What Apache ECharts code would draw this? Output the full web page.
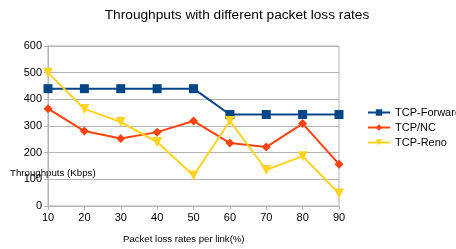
<!DOCTYPE html>
<html><head><meta charset="utf-8">
<script src="https://cdn.jsdelivr.net/npm/echarts@6/dist/echarts.min.js"></script>
<style>html,body{margin:0;padding:0;background:#fff}#c{width:456px;height:249px}</style>
</head><body><div id="c"></div>
<script>
const categories = ['10','20','30','40','50','60','70','80','90'];
const tcpForward = [440,440,440,440,440,343,343,343,343];
const tcpNC = [365,281,253,277,319,236,221,309,157];
const tcpReno = [500,364,315,240,114,319,135,187,47];
const seriesNames = ['TCP-Forward','TCP/NC','TCP-Reno'];

const chart = echarts.init(document.getElementById('c'));
const font = 'Liberation Sans';
chart.setOption({
  animation:false,
  title:{text:'Throughputs with different packet loss rates',left:232,textAlign:'center',top:3,
    textStyle:{fontFamily:font,fontSize:13.7,fontWeight:'normal',color:'#000'}},
  grid:{left:48,right:117,top:46,bottom:43,show:true,borderColor:'#b3b3b3',borderWidth:1},
  legend:{orient:'vertical',left:367,top:107,padding:0,itemWidth:22,itemHeight:8,itemGap:4,
    textStyle:{fontFamily:font,fontSize:11,color:'#000'},data:seriesNames},
  xAxis:{type:'category',data:categories,boundaryGap:false,
    axisLine:{lineStyle:{color:'#b3b3b3'}},axisTick:{show:true,length:4,lineStyle:{color:'#b3b3b3'}},
    axisLabel:{fontFamily:font,fontSize:11,color:'#000',margin:6},
    splitLine:{show:false}},
  yAxis:{type:'value',min:0,max:600,interval:100,
    axisLine:{show:true,lineStyle:{color:'#b3b3b3'}},axisTick:{show:true,length:4,lineStyle:{color:'#b3b3b3'}},
    axisLabel:{fontFamily:font,fontSize:11,color:'#000',margin:6},
    splitLine:{lineStyle:{color:'#b3b3b3'}}},
  graphic:[
    {type:'text',left:10,top:168,style:{text:'Throughputs (Kbps)',fontFamily:font,fontSize:9.7,fill:'#000'}},
    {type:'text',left:123,top:234,style:{text:'Packet loss rates per link(%)',fontFamily:font,fontSize:9.6,fill:'#000'}}
  ],
  series:[
    {name:seriesNames[0],type:'line',data:tcpForward,symbol:'rect',symbolSize:9,color:'#004586',lineStyle:{width:2}},
    {name:seriesNames[1],type:'line',data:tcpNC,symbol:'diamond',symbolSize:9,color:'#ff420e',lineStyle:{width:2}},
    {name:seriesNames[2],type:'line',data:tcpReno,symbol:'triangle',symbolRotate:180,symbolSize:10,color:'#ffd320',lineStyle:{width:2}}
  ]
});
</script></body></html>
